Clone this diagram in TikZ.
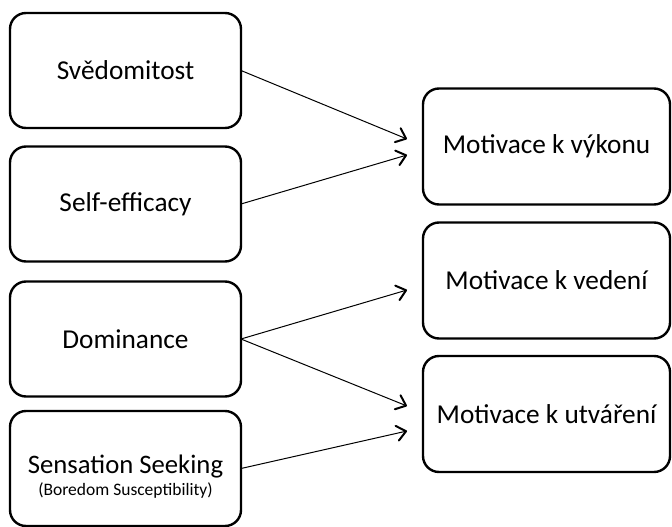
\documentclass[tikz,border=0pt]{standalone}
\usepackage{fontspec}
\setmainfont{Carlito}
\usetikzlibrary{arrows.meta,calc}
\begin{document}
\begin{tikzpicture}[x=1pt,y=-1pt,
  box/.style={draw=black, line width=2.4pt, rounded corners=16pt, inner sep=0pt, outer sep=0pt,
    minimum height=115pt, font=\fontsize{27.3}{30}\selectfont},
  leftbox/.style={box, minimum width=231pt},
  rightbox/.style={box, minimum width=247pt, minimum height=116pt},
  subtxt/.style={font=\fontsize{17.5}{20}\selectfont, inner sep=0pt, anchor=base},
  maintxt/.style={font=\fontsize{26.7}{30}\selectfont, inner sep=0pt, anchor=base},
  conn/.style={line width=1pt, -{Straight Barb[length=9pt,width=15pt,line width=2pt,round]}}
]
\useasboundingbox (0,0) rectangle (672,527);
\fill[white] (0,0) rectangle (672,527);

% left boxes
\node[leftbox] (s1) at (125.5,70.5) {Svědomitost};
\node[leftbox] (s2) at (125.5,204) {Self-efficacy};
\node[leftbox] (s3) at (125.5,339) {Dominance};
\node[leftbox] (s4) at (125.5,468.5) {};
\node[maintxt] (s4a) at (125.5,473) {Sensation Seeking};
\node[subtxt] (s4b) at (125.5,495) {(Boredom Susceptibility)};

% right boxes
\node[rightbox] (m1) at (546.5,146.5) {Motivace k výkonu};
\node[rightbox] (m2) at (546.5,280.5) {Motivace k vedení};
\node[rightbox] (m3) at (546.5,414) {Motivace k utváření};

% arrow ends
\coordinate (e1) at (407,139);
\coordinate (e2) at (407,155);
\coordinate (e3) at (407,290);
\coordinate (e4) at (407,406);
\coordinate (e5) at (407,431);

\draw[conn] (s1.east) -- (e1);
\draw[conn] (s2.east) -- (e2);
\draw[conn] (s3.east) -- (e3);
\draw[conn] (s3.east) -- (e4);
\draw[conn] (s4.east) -- (e5);
\end{tikzpicture}
\end{document}
